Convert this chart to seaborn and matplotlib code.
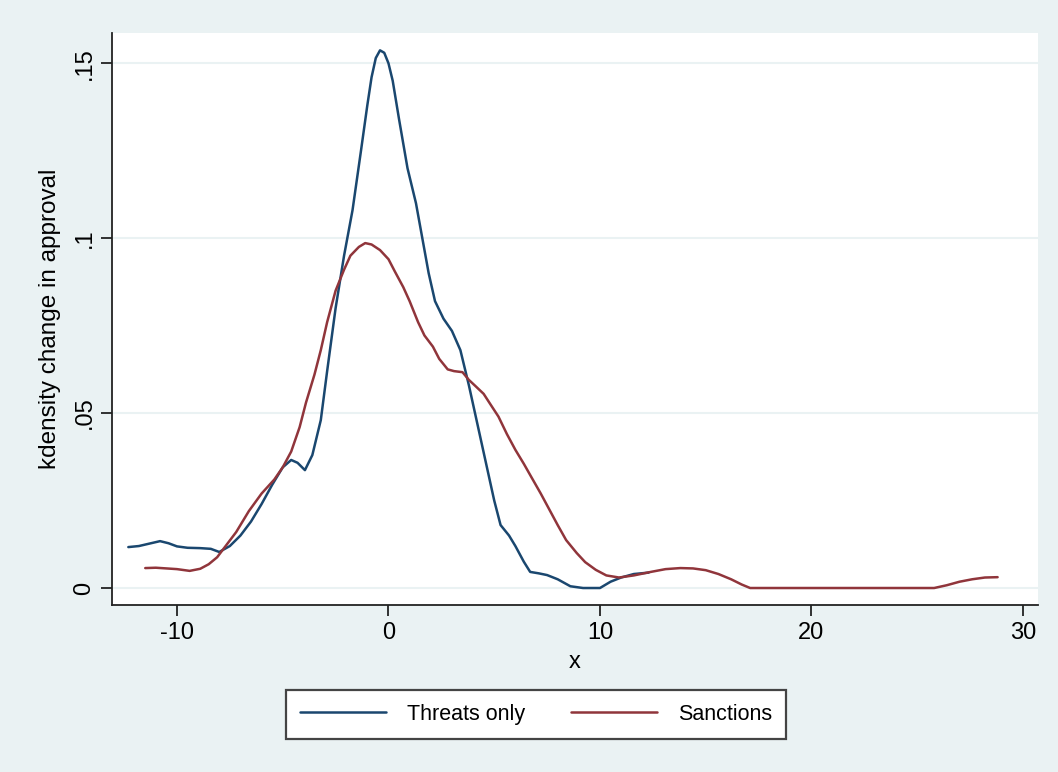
import matplotlib
matplotlib.use('Agg')
import matplotlib.pyplot as plt
import seaborn as sns
import pandas as pd

# Threats only (kdensity estimate)
threats_x = [-12.3, -11.8, -11.3, -10.8, -10.4, -10.0, -9.5, -8.9, -8.4, -8.0,
             -7.5, -7.0, -6.5, -6.0, -5.5, -5.0, -4.6, -4.3, -3.95, -3.6,
             -3.2, -2.9, -2.5, -2.1, -1.7, -1.3, -1.0, -0.8, -0.6, -0.4,
             -0.2, 0.0, 0.2, 0.5, 0.9, 1.3, 1.6, 1.9, 2.2, 2.6, 3.0, 3.4,
             3.8, 4.2, 4.6, 5.0, 5.3, 5.7, 6.0, 6.4, 6.7, 7.1,
             7.5, 8.0, 8.6, 9.2, 10.0, 10.5, 11.0, 11.6, 12.3]
threats_y = [0.0117, 0.0120, 0.0127, 0.0134, 0.0128, 0.0119, 0.0115, 0.0114, 0.0112, 0.0103,
             0.0120, 0.0150, 0.0190, 0.0240, 0.0295, 0.0345, 0.0366, 0.0358, 0.0337, 0.0380,
             0.0480, 0.0620, 0.0800, 0.0950, 0.1080, 0.1250, 0.1380, 0.1460, 0.1515, 0.1537,
             0.1530, 0.1500, 0.1450, 0.1340, 0.1200, 0.1100, 0.1000, 0.0900, 0.0820, 0.0770, 0.0735, 0.0680,
             0.0580, 0.0470, 0.0360, 0.0250, 0.0180, 0.0150, 0.0120, 0.0075, 0.0046, 0.0042,
             0.0037, 0.0025, 0.0005, 0.0000, 0.0000, 0.0018, 0.0030, 0.0040, 0.0044]

# Sanctions
sanctions_x = [-11.5, -11.0, -10.5, -10.0, -9.4, -8.9, -8.5, -8.1, -7.7, -7.2,
               -6.6, -6.0, -5.4, -5.0, -4.6, -4.2, -3.9, -3.5, -3.2, -2.9,
               -2.5, -2.1, -1.8, -1.4, -1.1, -0.8, -0.4, 0.0, 0.3, 0.7,
               1.0, 1.4, 1.7, 2.1, 2.4, 2.8, 3.1, 3.5, 3.8, 4.1,
               4.5, 4.8, 5.2, 5.6, 6.0, 6.4, 6.7, 7.2, 7.6, 8.0,
               8.4, 8.9, 9.3, 9.8, 10.3, 10.9, 11.6, 12.4, 13.1, 13.8,
               14.4, 15.0, 15.6, 16.2, 16.7, 17.1, 18.0, 20.0, 22.0, 24.0,
               25.8, 26.4, 27.0, 27.6, 28.2, 28.8]
sanctions_y = [0.0057, 0.0058, 0.0056, 0.0054, 0.0049, 0.0055, 0.0068, 0.0088, 0.0120, 0.0160,
               0.0220, 0.0270, 0.0310, 0.0345, 0.0390, 0.0460, 0.0530, 0.0610, 0.0680, 0.0760,
               0.0850, 0.0910, 0.0950, 0.0975, 0.0986, 0.0982, 0.0966, 0.0940, 0.0905, 0.0860,
               0.0820, 0.0760, 0.0722, 0.0690, 0.0655, 0.0625, 0.0620, 0.0617, 0.0595, 0.0578,
               0.0555, 0.0527, 0.0490, 0.0440, 0.0395, 0.0355, 0.0323, 0.0270, 0.0225, 0.0180,
               0.0137, 0.0100, 0.0074, 0.0052, 0.0036, 0.0030, 0.0036, 0.0046, 0.0054, 0.0057,
               0.0056, 0.0051, 0.0040, 0.0025, 0.0010, 0.0000, 0.0000, 0.0000, 0.0000, 0.0000,
               0.0000, 0.0008, 0.0018, 0.0025, 0.0030, 0.0031]

labels = ["Threats only", "Sanctions"]
xticks = [-10, 0, 10, 20, 30]
yticks = [0, 0.05, 0.1, 0.15]
ytick_labels = ["0", ".05", ".1", ".15"]

bg = "#EAF2F3"
navy = "#1A476F"
maroon = "#90353B"

sns.set_theme(style="white")
plt.rcParams['font.family'] = ['Liberation Sans', 'DejaVu Sans']
plt.rcParams.update({"text.color": "black", "axes.labelcolor": "black",
                     "xtick.color": "black", "ytick.color": "black"})

df = pd.concat([
    pd.DataFrame({"x": threats_x, "y": threats_y, "group": labels[0]}),
    pd.DataFrame({"x": sanctions_x, "y": sanctions_y, "group": labels[1]}),
])

fig = plt.figure(figsize=(10.58, 7.72), dpi=100, facecolor=bg)
ax = fig.add_axes([0.1059, 0.2163, 0.8752, 0.7407])
ax.set_facecolor("white")

sns.lineplot(data=df, x="x", y="y", hue="group", palette=[navy, maroon],
             sort=False, estimator=None, linewidth=1.8, ax=ax, legend=False)

ax.set_xlim(-13.07, 30.71)
ax.set_ylim(-0.00486, 0.1586)
ax.set_xticks(xticks)
ax.set_xticklabels([str(t) for t in xticks], fontsize=17)
ax.set_yticks(yticks)
ax.set_yticklabels(ytick_labels, fontsize=17, rotation=90, va="center")
for y in yticks:
    ax.axhline(y, color=bg, linewidth=1.5, zorder=0)

ax.set_xlabel("x", fontsize=17, labelpad=5)
ax.set_ylabel("kdensity change in approval", fontsize=17.5, labelpad=9)

for side in ["top", "right"]:
    ax.spines[side].set_visible(False)
for side in ["left", "bottom"]:
    ax.spines[side].set_color("#222222")
    ax.spines[side].set_linewidth(1.3)
ax.tick_params(axis="both", direction="out", length=8, width=1.3, color="#222222",
               bottom=True, left=True, pad=4)

handles = [plt.Line2D([], [], color=navy, linewidth=1.8),
           plt.Line2D([], [], color=maroon, linewidth=1.8)]
leg = fig.legend(handles, labels, loc="center", bbox_to_anchor=(0.5066, 0.0745),
                 ncol=2, fontsize=15.5, frameon=True, fancybox=False, framealpha=1,
                 handlelength=4.0, handletextpad=1.0, columnspacing=2.1,
                 borderpad=0.65, edgecolor="#444444", facecolor="white")
leg.get_frame().set_linewidth(1.6)

plt.savefig("out.png", dpi=100, facecolor=bg)
